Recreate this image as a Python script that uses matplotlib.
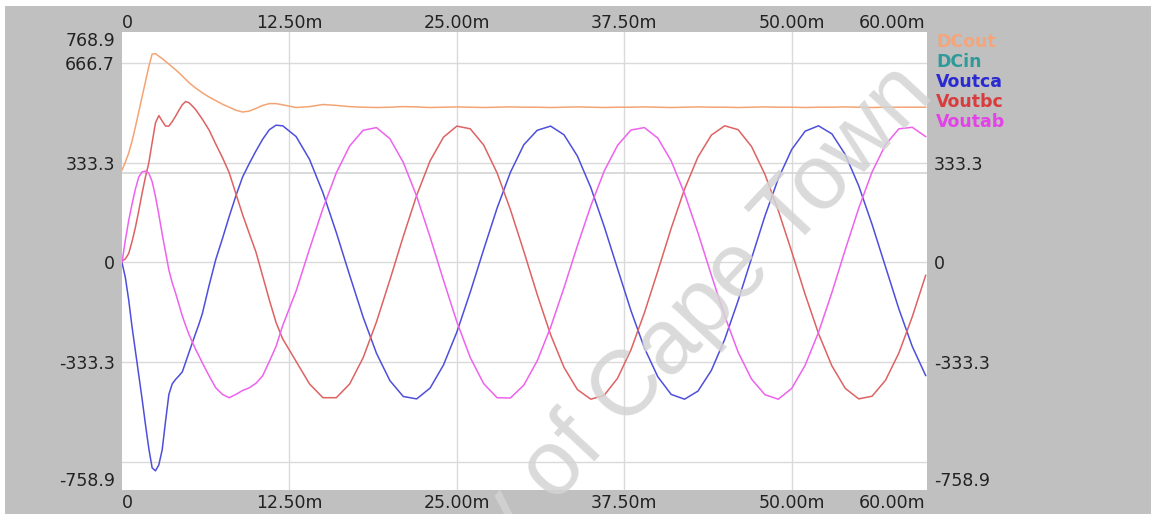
import matplotlib.pyplot as plt
from matplotlib.patches import Rectangle

plt.rcParams['font.family'] = ['DejaVu Sans']

# time axis in ms (finer steps during the start-up transient)
t_ms = [0, 0.25, 0.5, 0.75, 1, 1.25, 1.5, 1.75, 2, 2.25, 2.5, 2.75, 3,
        3.25, 3.5, 3.75, 4, 4.25, 4.5, 4.75, 5, 5.25, 5.5, 5.75, 6,
        6.5, 7, 7.5, 8, 8.5, 9, 9.5, 10, 10.5, 11, 11.5, 12,
        13, 14, 15, 16, 17, 18, 19, 20,
        21, 22, 23, 24, 25, 26, 27, 28,
        29, 30, 31, 32, 33, 34, 35, 36,
        37, 38, 39, 40, 41, 42, 43, 44,
        45, 46, 47, 48, 49, 50, 51, 52,
        53, 54, 55, 56, 57, 58, 59, 60]

dc_out = [308, 335, 365, 405, 452, 502, 553, 603, 653, 695, 697, 688, 680,
          671, 662, 652, 643, 633, 622, 611, 600, 591, 582, 574, 566,
          552, 540, 528, 518, 508, 502, 505, 514, 524, 530, 530, 526,
          517, 520, 527, 524, 520, 518, 517, 518,
          520, 519, 517, 518, 519, 518, 517, 518,
          519, 518, 518, 517, 518, 519, 518, 517,
          518, 518, 519, 518, 517, 518, 519, 518,
          518, 517, 518, 519, 518, 518, 517, 518,
          518, 519, 518, 517, 518, 518, 518, 518]

v_out_ca = [0, -50, -125, -215, -295, -375, -455, -540, -620, -685, -695, -675, -625,
            -530, -440, -405, -390, -378, -365, -333, -300, -268, -236, -205, -170,
            -77, 10, 80, 153, 222, 285, 330, 372, 411, 443, 458, 456,
            420, 344, 233, 100, -43, -182, -303, -394,
            -447, -455, -419, -342, -232, -99, 43, 181,
            301, 393, 441, 455, 426, 355, 250, 120,
            -21, -161, -285, -381, -440, -456, -429, -360,
            -256, -127, 14, 155, 280, 377, 438, 456,
            429, 360, 256, 127, -14, -155, -280, -377]

v_out_bc = [5, 12, 30, 70, 117, 172, 231, 285, 332, 400, 466, 490, 472,
            455, 455, 470, 488, 508, 526, 537, 533, 522, 510, 494, 478,
            442, 395, 350, 300, 230, 160, 97, 35, -45, -125, -200, -255,
            -330, -405, -451, -451, -405, -318, -198, -58,
            87, 224, 339, 418, 455, 446, 392, 299,
            176, 37, -107, -241, -350, -424, -456, -443,
            -386, -291, -168, -29, 114, 245, 352, 425,
            456, 443, 387, 294, 173, 36, -106, -237,
            -345, -420, -455, -446, -393, -302, -181, -43]

v_out_ab = [0, 75, 140, 195, 245, 285, 302, 305, 298, 270, 220, 160, 95,
            35, -25, -68, -102, -140, -178, -210, -240, -265, -290, -312, -335,
            -378, -418, -440, -451, -440, -427, -418, -403, -378, -330, -280, -210,
            -95, 45, 180, 299, 389, 441, 450, 413,
            334, 221, 85, -59, -198, -317, -404, -451,
            -452, -409, -328, -216, -84, 56, 189, 305,
            391, 442, 450, 415, 339, 230, 99, -42,
            -179, -299, -389, -441, -456, -420, -343, -233,
            -100, 43, 181, 302, 393, 446, 451, 420]

dc_in_level = 300

names = ['DCout', 'DCin', 'Voutca', 'Voutbc', 'Voutab']
line_colors = ['#f4a474', '#d3d6d6', '#4e4edc', '#de6262', '#ee62ee']
text_colors = ['#f6a47a', '#2e9a9a', '#2a2ad2', '#d83c3c', '#e442e8']

x_ticks = [0, 12.5, 25, 37.5, 50, 60]
x_labels = ['0', '12.50m', '25.00m', '37.50m', '50.00m', '60.00m']
y_ticks_left = [768.9, 666.7, 333.3, 0, -333.3, -758.9]
y_labels_left = ['768.9', '666.7', '333.3', '0', '-333.3', '-758.9']
y_ticks_right = [333.3, 0, -333.3, -758.9]
y_labels_right = ['333.3', '0', '-333.3', '-758.9']
grid_x = [12.5, 25, 37.5, 50]
grid_y = [666.7, 333.3, 0, -333.3, -666.7]

W, H = 1151, 514
fig = plt.figure(figsize=(W / 100, H / 100), dpi=100)
fig.patch.set_facecolor('white')
fig.patches.append(Rectangle((5 / W, 0), 1, 1 - 6 / H, transform=fig.transFigure,
                             facecolor='#c0c0c0', edgecolor='none', zorder=-10))

ax = fig.add_axes([122 / W, 1 - 490 / H, (927 - 122) / W, (490 - 32) / H])
ax.set_facecolor('white')
for s in ax.spines.values():
    s.set_visible(False)
ax.set_xlim(0, 60.1)
ax.set_ylim(-758.9, 768.9)

for gx in grid_x:
    ax.axvline(gx, color='#dadada', lw=1, zorder=1)
for gy in grid_y:
    ax.axhline(gy, color='#dadada', lw=1, zorder=1)

h_dcout, = ax.plot(t_ms, dc_out, color=line_colors[0], lw=1.1, zorder=3)
h_dcin = ax.axhline(dc_in_level, color=line_colors[1], lw=1.2, zorder=2)
h_ca, = ax.plot(t_ms, v_out_ca, color=line_colors[2], lw=1.1, zorder=3)
h_bc, = ax.plot(t_ms, v_out_bc, color=line_colors[3], lw=1.1, zorder=3)
h_ab, = ax.plot(t_ms, v_out_ab, color=line_colors[4], lw=1.1, zorder=3)

tick_color = '#222222'
ax.set_xticks(x_ticks, x_labels)
ax.tick_params(axis='x', top=True, labeltop=True, bottom=True, labelbottom=True,
               length=0, pad=3, labelsize=12.5, labelcolor=tick_color)
ticks = ax.xaxis.get_major_ticks()
for tk in ticks:
    tk.label2.set_va('baseline')
for lbl in (ticks[0].label1, ticks[0].label2):
    lbl.set_ha('left')
for lbl in (ticks[-1].label1, ticks[-1].label2):
    lbl.set_ha('right')

ax.set_yticks(y_ticks_left, y_labels_left)
ax.tick_params(axis='y', length=0, pad=5, labelsize=12.5, labelcolor=tick_color)

sec = ax.secondary_yaxis('right')
sec.set_yticks(y_ticks_right, y_labels_right)
sec.tick_params(axis='y', length=0, pad=5, labelsize=12.5, labelcolor=tick_color)
for s in sec.spines.values():
    s.set_visible(False)

for axis in (ax.yaxis, sec.yaxis):
    for tk in axis.get_major_ticks():
        for lbl in (tk.label1, tk.label2):
            if lbl.get_text() == '768.9':
                lbl.set_va('top')
            elif lbl.get_text() == '-758.9':
                lbl.set_va('bottom')

leg = fig.legend([h_dcout, h_dcin, h_ca, h_bc, h_ab], names,
                 loc='upper left', bbox_to_anchor=(936 / W, 1 - 33 / H),
                 frameon=False, handlelength=0, handletextpad=0, borderpad=0,
                 borderaxespad=0, labelspacing=0.12,
                 prop={'size': 12.5, 'weight': 'bold'})
for txt, c in zip(leg.get_texts(), text_colors):
    txt.set_color(c)
for hl in leg.legend_handles:
    hl.set_visible(False)

fig.text(582 / W, 1 - 440 / H, 'University of Cape Town', rotation=47,
         rotation_mode='anchor', ha='center', va='center', fontsize=66,
         family='Liberation Sans', color='#d4d4d4', alpha=0.85, zorder=10)

fig.savefig('out.png', dpi=100, facecolor=fig.get_facecolor())
